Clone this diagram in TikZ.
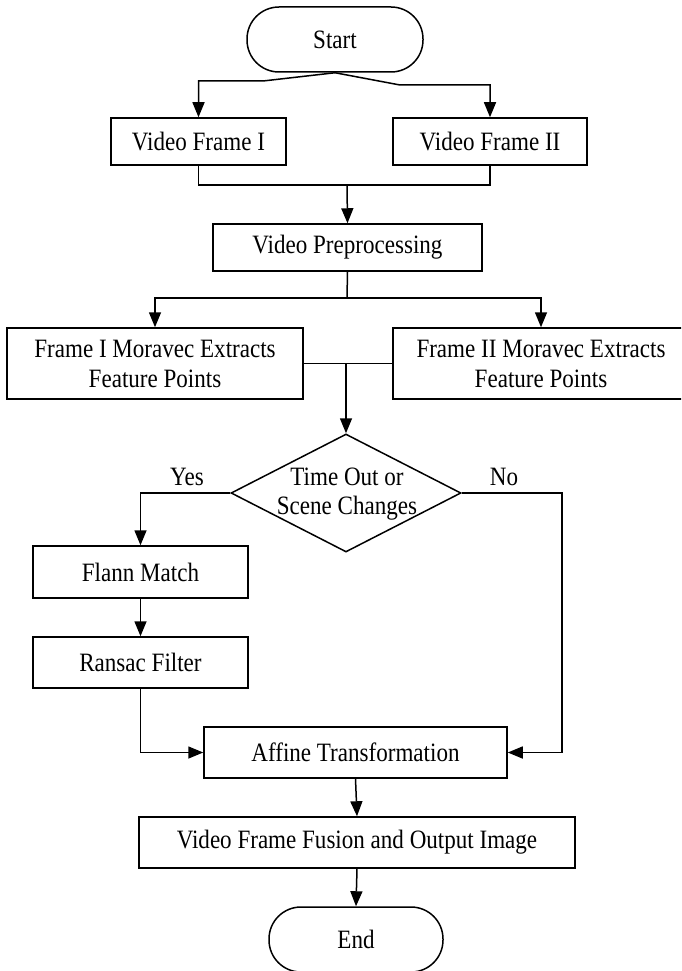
\documentclass[tikz,border=0pt]{standalone}
\usepackage{fontspec}
\setmainfont{Liberation Serif}[FakeStretch=0.87]
\usetikzlibrary{arrows.meta,shapes.geometric}
\newcommand{\myfs}{\fontsize{26.5}{30}\selectfont}
\tikzset{
  box/.style={draw, line width=1.5pt, rectangle, inner sep=0pt, align=center, font=\myfs},
  term/.style={box, rounded corners=32pt},
  dec/.style={draw, line width=1.5pt, diamond, inner sep=0pt},
  lbl/.style={font=\myfs, inner sep=0pt, align=center},
  line/.style={line width=1.5pt},
  arr/.style={line width=1.5pt, -{Triangle[length=15pt,width=12pt]}}
}
\begin{document}
\begin{tikzpicture}[x=1pt,y=-1pt]
\useasboundingbox (0,0) rectangle (681,971);
\clip (0,0) rectangle (681,971);
\fill[white] (0,0) rectangle (681,971);
\node[term, minimum width=176pt, minimum height=65pt] (start) at (335,39.5) {Start};
\node[box, minimum width=175pt, minimum height=47pt] (vf1) at (198.5,141.5) {Video Frame I};
\node[box, minimum width=194pt, minimum height=47pt] (vf2) at (490,141.5) {Video Frame II};
\node[box, minimum width=269pt, minimum height=47pt] (vp) at (347.5,247.5) {Video Preprocessing};
\node[box, minimum width=296pt, minimum height=71pt] (m1) at (155,363.5) {Frame I Moravec Extracts\\Feature Points};
\node[box, minimum width=296pt, minimum height=71pt] (m2) at (541,363.5) {Frame II Moravec Extracts\\Feature Points};
\node[dec, minimum width=230pt, minimum height=118pt] (dia) at (346,493) {};
\node[lbl, align=center, font=\fontsize{26.5}{29}\selectfont] (diat) at (347,494.5) {Time Out or\\Scene Changes};
\node[box, minimum width=215pt, minimum height=52pt] (flann) at (140.5,572) {Flann Match};
\node[box, minimum width=215pt, minimum height=51pt] (ransac) at (140.5,662.5) {Ransac Filter};
\node[box, minimum width=303pt, minimum height=51pt] (aff) at (355.5,752.5) {Affine Transformation};
\node[box, minimum width=436pt, minimum height=51pt] (fus) at (357,842.5) {Video Frame Fusion and Output Image};
\node[term, minimum width=174pt, minimum height=65pt] (end) at (356,939.5) {End};
\node[lbl] (yes) at (187,477) {Yes};
\node[lbl] (no) at (504,477) {No};
\coordinate (s1) at (263,81);
\coordinate (s2) at (400,85);
\coordinate (j1) at (347,185);
\coordinate (j2) at (347,298);
\coordinate (j3) at (346,363.5);
\coordinate (n1) at (562,493);
\draw[arr] (start.south) -- (s1) -| (vf1.north);
\draw[arr] (start.south) -- (s2) -| (vf2.north);
\draw[line] (vf1.south) |- (j1) -| (vf2.south);
\draw[arr] (j1) -- (vp.north);
\draw[line] (vp.south) -- (j2);
\draw[arr] (j2) -| (m1.north);
\draw[arr] (j2) -| (m2.north);
\draw[line] (m1.east) -- (m2.west);
\draw[arr] (j3) -- (dia.north);
\draw[arr] (dia.west) -| (flann.north);
\draw[arr] (flann.south) -- (ransac.north);
\draw[arr] (ransac.south) |- (aff.west);
\draw[arr] (dia.east) -- (n1) |- (aff.east);
\draw[arr] (aff.south) -- (fus.north);
\draw[arr] (fus.south) -- (end.north);
\end{tikzpicture}
\end{document}
